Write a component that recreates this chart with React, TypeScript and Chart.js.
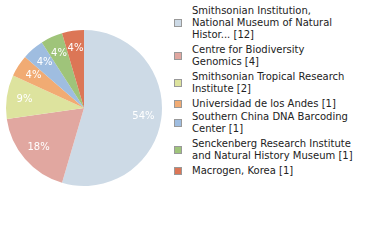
import React, { useEffect, useRef } from "react";
import { Chart, registerables } from "chart.js";

Chart.register(...registerables);

const categories = [
  "Smithsonian Institution, National Museum of Natural Histor...",
  "Centre for Biodiversity Genomics",
  "Smithsonian Tropical Research Institute",
  "Universidad de los Andes",
  "Southern China DNA Barcoding Center",
  "Senckenberg Research Institute and Natural History Museum",
  "Macrogen, Korea",
];
const counts = [12, 4, 2, 1, 1, 1, 1];
const colors = ["#cddae6", "#e1a7a0", "#dde39e", "#f1ab73", "#9fbde0", "#9fc47a", "#dc7656"];

const FONT = "DejaVu Sans";

const sliceLabels = {
  id: "sliceLabels",
  afterDatasetsDraw(chart: any) {
    const ctx = chart.ctx;
    const meta = chart.getDatasetMeta(0);
    const data = chart.data.datasets[0].data as number[];
    const total = data.reduce((a, b) => a + b, 0);
    ctx.save();
    ctx.fillStyle = "#ffffff";
    ctx.font = `10px "${FONT}"`;
    ctx.textAlign = "center";
    ctx.textBaseline = "middle";
    meta.data.forEach((arc: any, i: number) => {
      const p = arc.getProps(["x", "y", "startAngle", "endAngle", "outerRadius"], true);
      const mid = (p.startAngle + p.endAngle) / 2;
      const r = p.outerRadius * 0.77;
      const pct = Math.floor((data[i] / total) * 100);
      ctx.fillText(pct + "%", p.x + Math.cos(mid) * r, p.y + Math.sin(mid) * r);
    });
    ctx.restore();
  },
};

export default function App() {
  const ref = useRef<HTMLCanvasElement>(null);
  useEffect(() => {
    if (!ref.current) return;
    const chart = new Chart(ref.current, {
      type: "pie",
      data: {
        labels: categories,
        datasets: [
          {
            data: counts,
            backgroundColor: colors,
            borderWidth: 0,
          },
        ],
      },
      options: {
        animation: false,
        responsive: false,
        maintainAspectRatio: false,
        layout: { padding: 6 },
        plugins: {
          legend: { display: false },
          tooltip: { enabled: false },
        },
      },
      plugins: [sliceLabels],
    });
    return () => chart.destroy();
  }, []);

  return (
    <div
      style={{
        position: "fixed",
        left: 0,
        top: 0,
        width: 380,
        height: 240,
        background: "#fff",
        overflow: "hidden",
      }}
    >
      <canvas
        ref={ref}
        width={168}
        height={216}
        style={{ position: "absolute", left: 0, top: 0, width: 168, height: 216 }}
      />
      <div
        style={{
          position: "absolute",
          left: 174,
          top: 5,
          fontFamily: `"${FONT}", sans-serif`,
          fontSize: 10,
          lineHeight: "12px",
          color: "#222",
        }}
      >
        {categories.map((c, i) => (
          <div
            key={i}
            style={{ display: "flex", alignItems: "center", marginBottom: i === 3 ? 1 : 3 }}
          >
            <div
              style={{
                width: 8,
                height: 8,
                boxSizing: "border-box",
                border: "1px solid #999",
                background: colors[i],
                flex: "none",
              }}
            />
            <div style={{ marginLeft: 10, width: 163 }}>
              {c} [{counts[i]}]
            </div>
          </div>
        ))}
      </div>
    </div>
  );
}
